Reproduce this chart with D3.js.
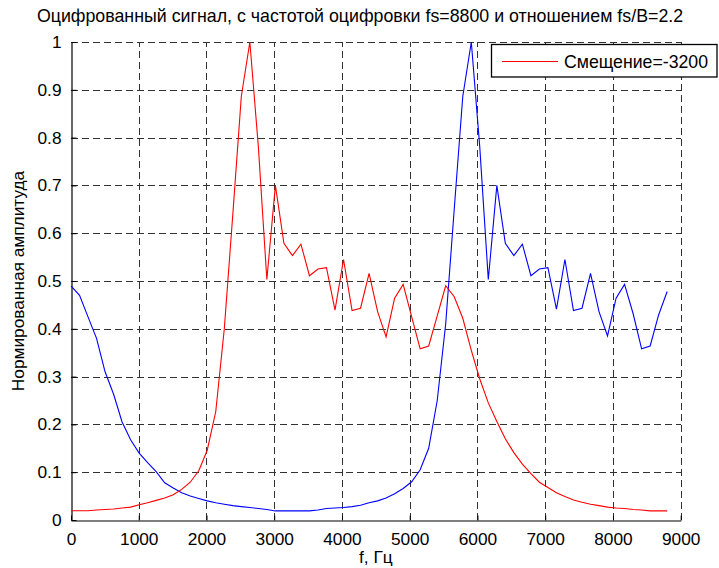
<!DOCTYPE html>
<html>
<head>
<meta charset="utf-8">
<script src="https://cdn.jsdelivr.net/npm/d3@7"></script>
<style>
  html, body { margin: 0; padding: 0; background: #fff; }
  svg { display: block; font-family: "Liberation Sans", Arial, sans-serif; }
</style>
</head>
<body>
<svg id="chart" width="719" height="568"></svg>
<script>
// ---- data ----
const freqs = [0,126,251,377,503,629,754,880,1006,1131,1257,1383,1509,1634,1760,1886,2011,2137,2263,2389,2514,2640,2766,2891,3017,3143,3269,3394,3520,3646,3771,3897,4023,4149,4274,4400,4526,4651,4777,4903,5029,5154,5280,5406,5531,5657,5783,5909,6034,6160,6286,6411,6537,6663,6789,6914,7040,7166,7291,7417,7543,7669,7794,7920,8046,8171,8297,8423,8549,8674,8800];

const shiftedSignal = [0.0195,0.0195,0.0195,0.021,0.022,0.023,0.025,0.027,0.032,0.036,
  0.041,0.046,0.053,0.064,0.079,0.103,0.146,0.227,0.40,0.64,
  0.886,1.0,0.78,0.503,0.70,0.579,0.553,0.577,0.511,0.525,
  0.528,0.439,0.545,0.438,0.443,0.516,0.436,0.383,0.464,0.493,
  0.425,0.358,0.364,0.427,0.49,0.467,0.422,0.355,0.295,0.245,
  0.206,0.17,0.141,0.117,0.097,0.079,0.068,0.057,0.049,0.042,
  0.037,0.033,0.030,0.027,0.025,0.024,0.022,0.021,0.019,0.019,0.019];

const originalSignal = [0.49,0.47,0.425,0.38,0.31,0.263,0.205,0.168,0.14,0.12,
  0.101,0.078,0.067,0.057,0.05,0.045,0.040,0.036,0.033,0.030,
  0.028,0.026,0.024,0.022,0.019,0.019,0.019,0.019,0.019,0.021,
  0.024,0.025,0.026,0.028,0.031,0.036,0.040,0.046,0.055,0.066,
  0.08,0.105,0.15,0.25,0.41,0.65,0.886,1.0,0.78,0.503,
  0.70,0.579,0.553,0.577,0.511,0.525,0.528,0.441,0.545,0.438,
  0.443,0.516,0.436,0.385,0.464,0.493,0.432,0.358,0.364,0.429,0.478];

const xTicks = [0,1000,2000,3000,4000,5000,6000,7000,8000,9000];
const yTicks = [0,0.1,0.2,0.3,0.4,0.5,0.6,0.7,0.8,0.9,1];

const titleText = "Оцифрованный сигнал, с частотой оцифровки fs=8800 и отношением fs/B=2.2";
const xLabelText = "f, Гц";
const yLabelText = "Нормированная амплитуда";
const legendText = "Смещение=-3200";

// ---- layout ----
const svg = d3.select("#chart");
const L = 71, R = 680.7, T = 42, B = 520;
const x = d3.scaleLinear().domain([0, 9000]).range([L, R]);
const y = d3.scaleLinear().domain([0, 1]).range([B, T]);
const fontSize = 17.3;

// grid
const grid = svg.append("g").attr("stroke", "#000").attr("stroke-width", 1)
  .attr("stroke-dasharray", "7,4").attr("opacity", 0.8).attr("shape-rendering", "crispEdges");
grid.selectAll(".vg").data(xTicks.slice(1)).join("line")
  .attr("x1", d => Math.round(x(d)) + 0.5).attr("x2", d => Math.round(x(d)) + 0.5)
  .attr("y1", B).attr("y2", T);
grid.selectAll(".hg").data(yTicks.slice(1)).join("line")
  .attr("y1", d => Math.round(y(d)) + 0.5).attr("y2", d => Math.round(y(d)) + 0.5)
  .attr("x1", L).attr("x2", R);

// axes
const xAxis = d3.axisBottom(x).tickValues(xTicks).tickSizeInner(-5).tickSizeOuter(0)
  .tickPadding(12).tickFormat(d3.format("d"));
const yAxis = d3.axisLeft(y).tickValues(yTicks).tickSizeInner(-5).tickSizeOuter(0)
  .tickPadding(10).tickFormat(d => d === 0 ? "0" : d === 1 ? "1" : d3.format(".1f")(d));

const gx = svg.append("g").attr("transform", `translate(0,${B + 0.5})`).call(xAxis);
const gy = svg.append("g").attr("transform", `translate(${L + 0.5},0)`).call(yAxis);
[gx, gy].forEach(g => {
  g.select(".domain").attr("stroke", "#000").attr("stroke-width", 1.2);
  g.selectAll(".tick line").attr("stroke", "#000");
  g.selectAll("text").attr("font-size", fontSize).attr("fill", "#000")
    .attr("font-family", "Liberation Sans, Arial, sans-serif");
});

// lines
const line = d3.line().x((d, i) => x(freqs[i])).y(d => y(d));
svg.append("path").datum(originalSignal).attr("d", line)
  .attr("fill", "none").attr("stroke", "#0000ff").attr("stroke-width", 1.1);
svg.append("path").datum(shiftedSignal).attr("d", line)
  .attr("fill", "none").attr("stroke", "#ff0000").attr("stroke-width", 1.1);

// title and labels
svg.append("text").attr("x", 360).attr("y", 22).attr("text-anchor", "middle")
  .attr("font-size", 17.8).text(titleText);
svg.append("text").attr("x", (L + R) / 2).attr("y", 563).attr("text-anchor", "middle")
  .attr("font-size", fontSize).text(xLabelText);
svg.append("text").attr("transform", `translate(24,${(T + B) / 2}) rotate(-90)`)
  .attr("text-anchor", "middle").attr("font-size", fontSize).text(yLabelText);

// legend
const lg = svg.append("g");
lg.append("rect").attr("x", 491.5).attr("y", 44.5).attr("width", 225.5).attr("height", 32.5)
  .attr("fill", "#fff").attr("stroke", "#000").attr("stroke-width", 1.3);
lg.append("line").attr("x1", 502).attr("x2", 558).attr("y1", 61.5).attr("y2", 61.5)
  .attr("stroke", "#ff0000").attr("stroke-width", 1.1);
lg.append("text").attr("x", 564).attr("y", 67.5).attr("font-size", 17.7).text(legendText);
</script>
</body>
</html>
